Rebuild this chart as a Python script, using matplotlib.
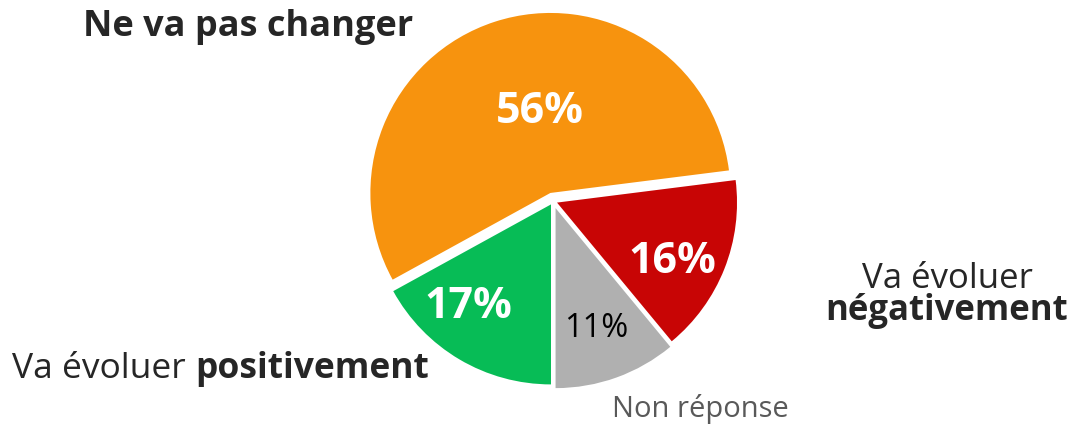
import matplotlib.pyplot as plt

W, H = 1075, 425

labels = ["Ne va pas changer", "Va évoluer positivement", "Non réponse", "Va évoluer négativement"]
values = [56, 17, 11, 16]
colors = ["#F7930E", "#07BC56", "#B0B0B0", "#C80505"]
explode = [0.047, 0.022, 0.042, 0.024]

plt.rcParams['font.family'] = ['Open Sans', 'DejaVu Sans']

fig = plt.figure(figsize=(W / 100, H / 100), dpi=100)
fig.patch.set_facecolor("white")

# pie centre (553, 201) px from top-left, radius 180 px
cx, cy, r = 553, 201, 180
ax = fig.add_axes([(cx - r) / W, (H - cy - r) / H, 2 * r / W, 2 * r / H])
wedges, _ = ax.pie(values, colors=colors, explode=explode, startangle=7.2,
                   counterclock=True, radius=1.0,
                   wedgeprops=dict(linewidth=0))
ax.set_xlim(-1, 1)
ax.set_ylim(-1, 1)
ax.set_aspect("equal")
ax.axis("off")


def px(x, y):
    return x / W, 1 - y / H


dark = "#262626"

# percentage labels
fig.text(*px(540, 123), f"{values[0]}%", color="white", fontsize=31, fontweight="bold",
         ha="center", va="baseline")
fig.text(*px(468, 318), f"{values[1]}%", color="white", fontsize=31, fontweight="bold",
         ha="center", va="baseline")
fig.text(*px(596, 337), f"{values[2]}%", color="black", fontsize=23.5,
         ha="center", va="baseline")
fig.text(*px(672, 273), f"{values[3]}%", color="white", fontsize=31, fontweight="bold",
         ha="center", va="baseline")

# category labels
fig.text(*px(83, 36), labels[0], color=dark, fontsize=26, fontweight="bold",
         ha="left", va="baseline")

t1 = fig.text(*px(12, 378), "Va évoluer ", color=dark, fontsize=25.5,
              ha="left", va="baseline")
fig.canvas.draw()
bb = t1.get_window_extent()
fig.text(bb.x1 / W, 1 - 378 / H, "positivement", color=dark, fontsize=25.5,
         fontweight="bold", ha="left", va="baseline")

fig.text(*px(947, 288), "Va évoluer", color=dark, fontsize=25,
         ha="center", va="baseline")
fig.text(*px(947, 320), "négativement", color=dark, fontsize=25, fontweight="bold",
         ha="center", va="baseline")

fig.text(*px(612, 417), labels[2], color="#595959", fontsize=21,
         ha="left", va="baseline")

fig.savefig("out.png", dpi=100, facecolor="white")
